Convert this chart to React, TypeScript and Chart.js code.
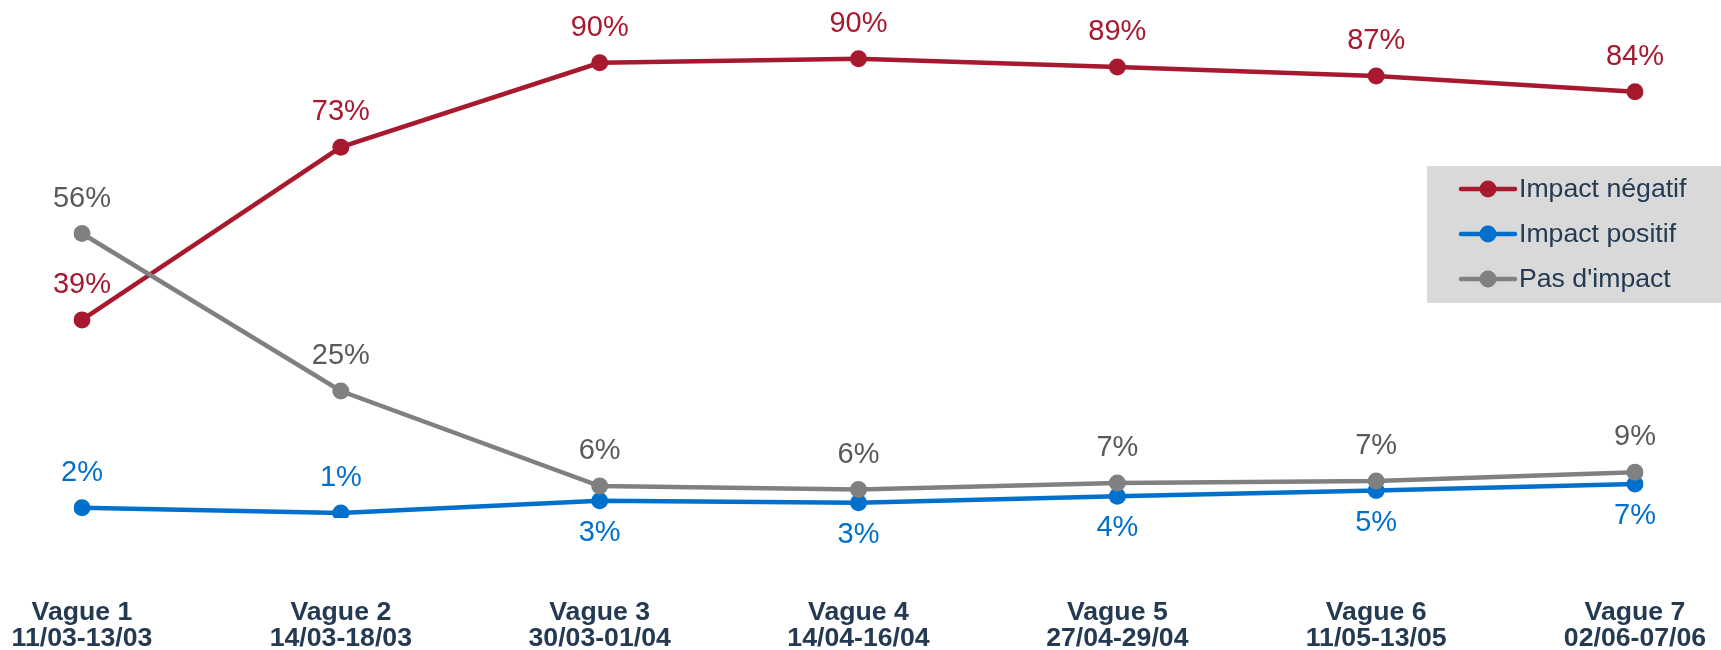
import React, { useEffect, useRef } from "react";
import { Chart, registerables } from "chart.js";

Chart.register(...registerables);

const categories: string[][] = [
  ["Vague 1", "11/03-13/03"],
  ["Vague 2", "14/03-18/03"],
  ["Vague 3", "30/03-01/04"],
  ["Vague 4", "14/04-16/04"],
  ["Vague 5", "27/04-29/04"],
  ["Vague 6", "11/05-13/05"],
  ["Vague 7", "02/06-07/06"],
];

const impactNegatif: number[] = [39, 73, 89.6, 90.4, 88.8, 87, 83.9];
const impactPositif: number[] = [2, 1, 3.4, 3.0, 4.3, 5.4, 6.7];
const pasImpact: number[] = [56, 25, 6.3, 5.6, 6.9, 7.3, 9.0];

const seriesNames = ["Impact négatif", "Impact positif", "Pas d'impact"];

const RED = "#A6192E";
const BLUE = "#0070CC";
const GRAY = "#808080";
const GRAY_TEXT = "#595959";
const DARK = "#243A52";
const FONT = "'Liberation Sans', Arial, sans-serif";

const labelPlugin = {
  id: "valueLabels",
  afterDatasetsDraw(chart: any) {
    const ctx = chart.ctx;
    ctx.save();
    ctx.font = `29px ${FONT}`;
    ctx.textAlign = "center";
    ctx.textBaseline = "middle";
    const metas = chart.data.datasets.map((_: any, i: number) => chart.getDatasetMeta(i));
    chart.data.datasets.forEach((ds: any, di: number) => {
      const meta = metas[di];
      meta.data.forEach((pt: any, i: number) => {
        // put label below if another series' point sits just above this one
        let below = false;
        metas.forEach((m: any, mj: number) => {
          if (mj === di) return;
          const o = m.data[i];
          if (o && o.y < pt.y && pt.y - o.y < 40) below = true;
        });
        const y = below ? pt.y + 32 : pt.y - 35;
        ctx.fillStyle = ds.labelColor;
        ctx.fillText(`${Math.round(ds.data[i])}%`, pt.x, y);
      });
    });
    ctx.restore();
  },
};

const axisLabelPlugin = {
  id: "axisLabels",
  afterDraw(chart: any) {
    const ctx = chart.ctx;
    const xs = chart.scales.x;
    const base = chart.chartArea.bottom;
    ctx.save();
    ctx.font = `bold 26.67px ${FONT}`;
    ctx.textAlign = "center";
    ctx.textBaseline = "alphabetic";
    ctx.fillStyle = DARK;
    (chart.data.labels as string[][]).forEach((lines, i) => {
      const x = xs.getPixelForTick(i);
      lines.forEach((t, li) => {
        ctx.fillText(t, x, base + 101.5 + li * 26.5);
      });
    });
    ctx.restore();
  },
};

const legendPlugin = {
  id: "boxLegend",
  afterDraw(chart: any) {
    const ctx = chart.ctx;
    const bx = 1427;
    const by = 166;
    const bw = chart.width - bx;
    const bh = 137;
    ctx.save();
    ctx.fillStyle = "#D9D9D9";
    ctx.fillRect(bx, by, bw, bh);
    ctx.font = `26.67px ${FONT}`;
    ctx.textAlign = "left";
    ctx.textBaseline = "middle";
    chart.data.datasets.forEach((ds: any, i: number) => {
      const cy = by + 23 + i * 45;
      ctx.strokeStyle = ds.borderColor;
      ctx.lineWidth = 4.5;
      ctx.lineCap = "round";
      ctx.beginPath();
      ctx.moveTo(1461, cy);
      ctx.lineTo(1515, cy);
      ctx.stroke();
      ctx.fillStyle = ds.borderColor;
      ctx.beginPath();
      ctx.arc(1488, cy, 8.5, 0, Math.PI * 2);
      ctx.fill();
      ctx.fillStyle = DARK;
      ctx.fillText(ds.label, 1519, cy + 1);
    });
    ctx.restore();
  },
};

export default function App() {
  const ref = useRef<HTMLCanvasElement>(null);

  useEffect(() => {
    document.body.style.margin = "0";
    if (!ref.current) return;
    const mk = (label: string, data: number[], color: string, labelColor: string, order: number) => ({
      label,
      data,
      borderColor: color,
      backgroundColor: color,
      pointBackgroundColor: color,
      pointBorderWidth: 0,
      pointRadius: 8.5,
      borderWidth: 4.5,
      tension: 0,
      fill: false,
      order,
      labelColor,
    });
    const chart = new Chart(ref.current, {
      type: "line",
      data: {
        labels: categories,
        datasets: [
          mk(seriesNames[0], impactNegatif, RED, RED, 2),
          mk(seriesNames[1], impactPositif, BLUE, BLUE, 1),
          mk(seriesNames[2], pasImpact, GRAY, GRAY_TEXT, 0),
        ] as any,
      },
      options: {
        responsive: false,
        animation: false,
        layout: { padding: { top: 10, left: 82, right: 86, bottom: 132 } },
        plugins: {
          legend: { display: false },
          tooltip: { enabled: false },
        },
        scales: {
          x: {
            display: false,
            offset: false,
          },
          y: {
            display: false,
            min: 0,
            max: 100,
          },
        },
      },
      plugins: [labelPlugin, axisLabelPlugin, legendPlugin],
    });
    return () => chart.destroy();
  }, []);

  return (
    <div style={{ width: 1721, height: 650, position: "relative" }}>
      <canvas ref={ref} width={1721} height={650} style={{ width: 1721, height: 650, display: "block" }} />
    </div>
  );
}
